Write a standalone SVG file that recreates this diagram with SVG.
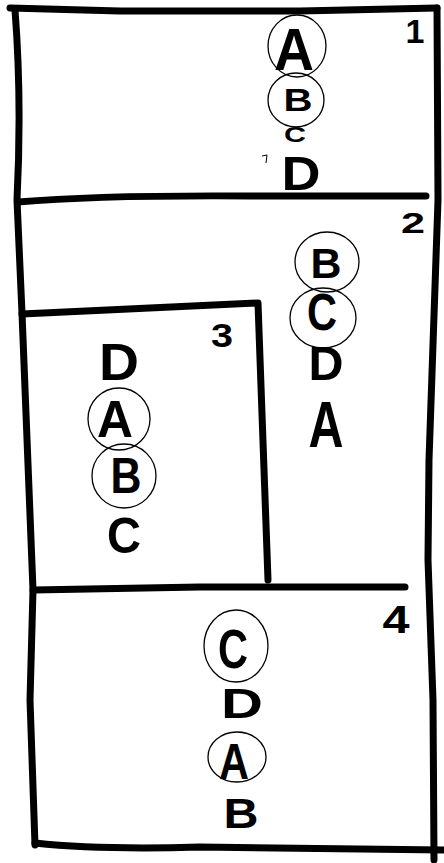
<svg xmlns="http://www.w3.org/2000/svg" width="444" height="863" viewBox="0 0 444 863">
<style>
.ln{fill:none;stroke:#000;stroke-width:7;stroke-linecap:round;stroke-linejoin:round}
.ci{fill:none;stroke:#000;stroke-width:1.3}
.lt{font-family:"Liberation Sans",Arial,sans-serif;font-weight:bold;fill:#000;text-anchor:middle}
</style>
<rect width="444" height="863" fill="#fff"/>
<g id="frame">
<path class="ln" d="M10 8 L120 11 L300 11 L437 8"/>
<path class="ln" d="M15 10 Q22 100 17 200 L22 313 L33 590 L30 700 L35 845"/>
<path class="ln" d="M35 843 Q100 850 200 847 L444 850"/>
<path class="ln" d="M437 8 L438 200 L429 460 L428 560 L433 700 L434 860"/>
<path class="ln" d="M18 202 Q100 195 250 196 L426 196"/>
<path class="ln" d="M22 314 L258 303 L268 580"/>
<path class="ln" d="M33 590 L200 587 L405 587"/>
</g>
<g id="panel1">
<ellipse class="ci" cx="297" cy="46" rx="29" ry="31"/>
<ellipse class="ci" cx="296" cy="100" rx="28" ry="27"/>
<text class="lt" x="294" y="70" font-size="60" textLength="40" lengthAdjust="spacingAndGlyphs">A</text>
<text class="lt" x="298" y="111" font-size="31" textLength="29" lengthAdjust="spacingAndGlyphs">B</text>
<text class="lt" x="295" y="142" font-size="22" textLength="22" lengthAdjust="spacingAndGlyphs">C</text>
<path d="M262 156 L267 155 L266 163" fill="none" stroke="#000" stroke-width="1"/>
<text class="lt" x="301" y="190" font-size="48" textLength="39" lengthAdjust="spacingAndGlyphs">D</text>
<text class="lt" x="415" y="43" font-size="34">1</text>
</g>
<g id="panel2">
<ellipse class="ci" cx="327" cy="262" rx="32" ry="30"/>
<ellipse class="ci" cx="323" cy="318" rx="33" ry="30"/>
<text class="lt" x="326" y="278" font-size="43" textLength="31" lengthAdjust="spacingAndGlyphs">B</text>
<text class="lt" x="322" y="330" font-size="51" textLength="30" lengthAdjust="spacingAndGlyphs">C</text>
<text class="lt" x="326" y="380" font-size="48" textLength="35" lengthAdjust="spacingAndGlyphs">D</text>
<text class="lt" x="326" y="447" font-size="64" textLength="35" lengthAdjust="spacingAndGlyphs">A</text>
<text class="lt" x="413" y="233" font-size="30" textLength="24" lengthAdjust="spacingAndGlyphs">2</text>
</g>
<g id="panel3">
<ellipse class="ci" cx="119" cy="419" rx="31" ry="31"/>
<ellipse class="ci" cx="124" cy="476" rx="32" ry="32"/>
<text class="lt" x="119" y="380" font-size="52" textLength="40" lengthAdjust="spacingAndGlyphs">D</text>
<text class="lt" x="115" y="437" font-size="51" textLength="36" lengthAdjust="spacingAndGlyphs">A</text>
<text class="lt" x="126" y="493" font-size="50" textLength="31" lengthAdjust="spacingAndGlyphs">B</text>
<text class="lt" x="124" y="553" font-size="50" textLength="34" lengthAdjust="spacingAndGlyphs">C</text>
<text class="lt" x="222" y="347" font-size="34" textLength="22" lengthAdjust="spacingAndGlyphs">3</text>
</g>
<g id="panel4">
<ellipse class="ci" cx="236" cy="646" rx="32" ry="36"/>
<ellipse class="ci" cx="237" cy="757" rx="29" ry="25"/>
<text class="lt" x="233" y="668" font-size="56" textLength="30" lengthAdjust="spacingAndGlyphs">C</text>
<text class="lt" x="242" y="718" font-size="42" textLength="42" lengthAdjust="spacingAndGlyphs">D</text>
<text class="lt" x="234" y="779" font-size="50" textLength="30" lengthAdjust="spacingAndGlyphs">A</text>
<text class="lt" x="241" y="828" font-size="42" textLength="35" lengthAdjust="spacingAndGlyphs">B</text>
<text class="lt" x="396" y="633" font-size="38" textLength="27" lengthAdjust="spacingAndGlyphs">4</text>
</g>
</svg>
